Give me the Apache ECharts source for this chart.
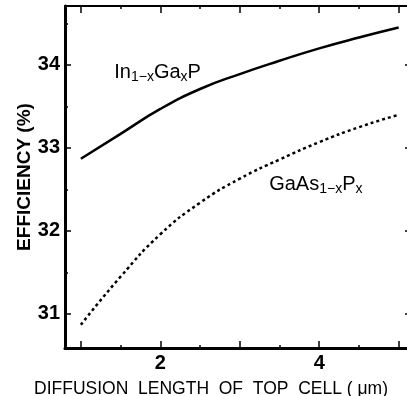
<!DOCTYPE html>
<html>
<head>
<meta charset="utf-8">
<script src="https://cdn.jsdelivr.net/npm/echarts@6/dist/echarts.min.js"></script>
<style>
  html, body { margin: 0; padding: 0; background: #fff; }
  #chart { width: 407px; height: 396px; }
</style>
</head>
<body>
<div id="chart"></div>
<script>
// diffusion length of top cell (um)
const lengths = [1, 1.5, 2, 2.5, 3, 3.5, 4, 4.5, 5];
// efficiency (%)
const inGaP = [32.87, 33.17, 33.47, 33.71, 33.89, 34.05, 34.20, 34.33, 34.45];
const gaAsP = [30.87, 31.45, 31.96, 32.34, 32.63, 32.86, 33.07, 33.25, 33.40];

const xMajor = [1, 2, 3, 4, 5];
const xMinor = [1.5, 2.5, 3.5, 4.5];
const xLabels = [2, 4];
const yMajor = [31, 32, 33, 34];
const yMinor = [31.5, 32.5, 33.5, 34.5];

const font = 'Liberation Sans, Arial, sans-serif';
const xRange = { min: 0.8, max: 5.13 };
const yRange = { min: 30.59, max: 34.71 };

function tickAxis(pos, ticks, len, extra) {
    return Object.assign({
        type: 'value', position: pos,
        axisLine: { show: false },
        axisTick: { show: true, inside: true, length: len, customValues: ticks,
                    lineStyle: { color: '#000', width: 1.5 } },
        axisLabel: { show: false },
        splitLine: { show: false }
    }, extra);
}

// rich text for the curve labels, subscripts dropped below the baseline
const labelRich = {
    sub: { fontSize: 14, fontFamily: font, color: '#000', verticalAlign: 'bottom', lineHeight: 24 }
};

let chart = echarts.init(document.getElementById('chart'));

let option = {
    animation: false,
    grid: { left: 65, top: 6, right: -2, bottom: 48, containLabel: false, outerBoundsMode: 'none' },
    xAxis: [
        Object.assign(tickAxis('bottom', xMajor, 7, xRange), {
            axisLine: { show: true, onZero: false, lineStyle: { color: '#000', width: 3 } },
            axisLabel: { show: true, customValues: xLabels, color: '#000', fontSize: 20,
                         fontWeight: 'bold', fontFamily: font, margin: 5 },
            name: 'DIFFUSION  LENGTH  OF  TOP  CELL ( \u03bcm)',
            nameLocation: 'middle', nameGap: 32, nameMoveOverlap: false,
            nameTextStyle: { color: '#000', fontSize: 17.5, fontFamily: font, padding: [0, 52, 0, 0] }
        }),
        tickAxis('bottom', xMinor, 3, xRange),
        Object.assign(tickAxis('top', xMajor, 7, xRange), {
            axisLine: { show: true, onZero: false, lineStyle: { color: '#000', width: 2 } }
        }),
        tickAxis('top', xMinor, 3, xRange)
    ],
    yAxis: [
        Object.assign(tickAxis('left', yMajor, 6, yRange), {
            axisLine: { show: true, onZero: false, lineStyle: { color: '#000', width: 3 } },
            axisLabel: { show: true, customValues: yMajor, color: '#000', fontSize: 20,
                         fontWeight: 'bold', fontFamily: font, margin: 5 },
            name: 'EFFICIENCY (%)',
            nameLocation: 'middle', nameGap: 31, nameRotate: 90, nameMoveOverlap: false,
            nameTextStyle: { color: '#000', fontSize: 19, fontWeight: 'bold', fontFamily: font }
        }),
        tickAxis('left', yMinor, 3, yRange),
        tickAxis('right', yMajor, 4, yRange)
    ],
    series: [
        {
            name: 'In1-xGaxP',
            type: 'line',
            smooth: true,
            showSymbol: false,
            data: lengths.map((x, i) => [x, inGaP[i]]),
            lineStyle: { color: '#000', width: 2.5 },
            markPoint: {
                symbolSize: 0,
                data: [{ coord: [1.42, 33.91] }],
                label: {
                    show: true, position: 'right', distance: 0,
                    formatter: 'In{sub|1\u2212x}Ga{sub|x}P',
                    color: '#000', fontSize: 20, fontFamily: font, lineHeight: 24,
                    rich: labelRich
                }
            }
        },
        {
            name: 'GaAs1-xPx',
            type: 'line',
            smooth: true,
            showSymbol: false,
            data: lengths.map((x, i) => [x, gaAsP[i]]),
            lineStyle: { color: '#000', width: 2.5, type: [3, 3] },
            markPoint: {
                symbolSize: 0,
                data: [{ coord: [3.37, 32.56] }],
                label: {
                    show: true, position: 'right', distance: 0,
                    formatter: 'GaAs{sub|1\u2212x}P{sub|x}',
                    color: '#000', fontSize: 20, fontFamily: font, lineHeight: 24,
                    rich: labelRich
                }
            }
        }
    ]
};

chart.setOption(option);
</script>
</body>
</html>
